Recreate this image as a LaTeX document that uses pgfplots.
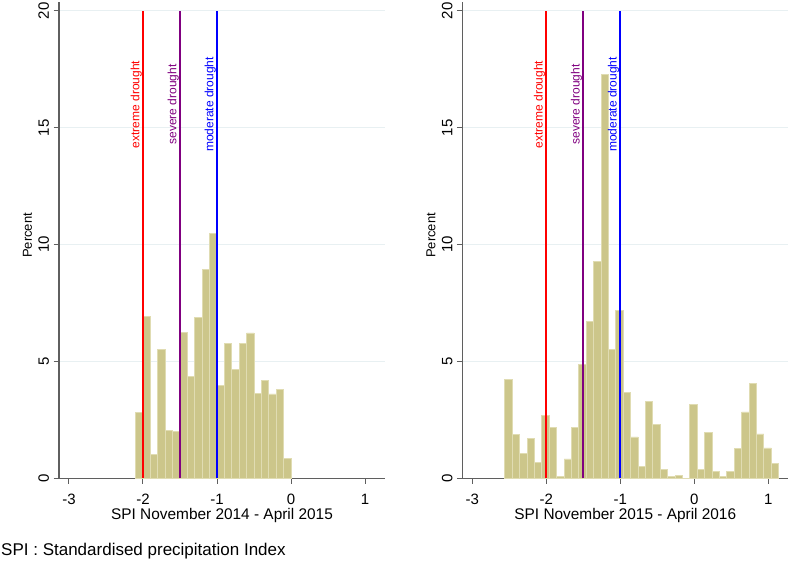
\documentclass[border=0pt]{standalone}
\usepackage{fontspec}
\setmainfont{Liberation Sans}
\usepackage{pgfplots}
\pgfplotsset{compat=1.18}

\definecolor{khakibar}{RGB}{204,198,138}
\definecolor{khakiedge}{RGB}{224,220,178}
\definecolor{gridc}{RGB}{232,240,242}
\definecolor{axisc}{RGB}{95,95,95}
\definecolor{purp}{RGB}{128,0,128}

\tikzset{dlabel/.style={rotate=90, anchor=south, inner sep=1pt, font=\fontsize{12}{14}\selectfont}}

\pgfplotsset{
  spipanel/.style={
    scale only axis, width=326pt, height=476.3pt,
    xmin=-3.135, xmax=1.27, ymin=0, ymax=20.385,
    axis x line*=bottom, axis y line*=left,
    axis line style={draw=axisc, line width=1.1pt},
    xtick={-3,-2,-1,0,1}, ytick={0,5,10,15,20},
    tick align=outside, major tick length=5.5pt,
    tick style={draw=axisc, line width=1pt},
    ymajorgrids, grid style={draw=gridc, line width=1pt},
    xticklabel={\pgfmathprintnumber[assume math mode=true]{\tick}},
    yticklabel={\pgfmathprintnumber[assume math mode=true]{\tick}},
    xticklabel style={font=\fontsize{15}{18}\selectfont, anchor=base, inner sep=0pt, yshift=-20.5pt},
    yticklabel style={font=\fontsize{15}{18}\selectfont, rotate=90, anchor=base, inner sep=0pt, yshift=4.5pt},
    xlabel style={at={(axis description cs:0.5,0)}, anchor=base, inner sep=0pt, yshift=-41pt, font=\fontsize{15.4}{18}\selectfont},
    ylabel style={at={(axis description cs:0,0.51)}, anchor=base, inner sep=0pt, yshift=27pt, font=\fontsize{13}{16}\selectfont},
    ylabel={Percent},
  },
  hist/.style={ybar interval, fill=khakibar, draw=khakiedge, line width=0.8pt},
  dline/.style={line width=1.8pt},
}

\begin{document}
\begin{tikzpicture}
\useasboundingbox (0,0) rectangle (790pt,563pt);

% left panel: Nov 2014 - Apr 2015
\begin{axis}[spipanel, at={(59pt,84.7pt)}, anchor=south west,
  xlabel={SPI November 2014 - April 2015}]
\addplot[hist] coordinates {
  (-2.1,2.81) (-2.0,6.92) (-1.9,1.04) (-1.8,5.52) (-1.7,2.06) (-1.6,2.00)
  (-1.5,6.25) (-1.4,4.34) (-1.3,6.87) (-1.2,8.92) (-1.1,10.46) (-1.0,3.98)
  (-0.9,5.78) (-0.8,4.67) (-0.7,5.78) (-0.6,6.22) (-0.5,3.64) (-0.4,4.17)
  (-0.3,3.61) (-0.2,3.81) (-0.1,0.86) (0,0)
};
\addplot[dline, red] coordinates {(-2,0) (-2,20)};
\addplot[dline, purp] coordinates {(-1.5,0) (-1.5,20)};
\addplot[dline, blue] coordinates {(-1,0) (-1,20)};
\node[dlabel, text=red] at (axis cs:-2,16) {extreme drought};
\node[dlabel, text=purp] at (axis cs:-1.5,16) {severe drought};
\node[dlabel, text=blue] at (axis cs:-1,16) {moderate drought};
\end{axis}

% right panel: Nov 2015 - Apr 2016
\begin{axis}[spipanel, at={(462.3pt,84.7pt)}, anchor=south west,
  xlabel={SPI November 2015 - April 2016}]
\addplot[hist] coordinates {
  (-2.56,4.23) (-2.46,1.86) (-2.36,1.07) (-2.26,1.70) (-2.16,0.69) (-2.06,2.68)
  (-1.96,2.16) (-1.86,0.07) (-1.76,0.83) (-1.66,2.18) (-1.56,4.88) (-1.46,6.70)
  (-1.36,9.29) (-1.26,17.30) (-1.16,5.52) (-1.06,7.18) (-0.96,3.67) (-0.86,1.77)
  (-0.76,0.49) (-0.66,3.27) (-0.56,2.30) (-0.46,0.39) (-0.36,0.07) (-0.26,0.11)
  (-0.16,0) (-0.06,3.17) (0.04,0.39) (0.14,1.96) (0.24,0.29) (0.34,0.09)
  (0.44,0.29) (0.54,1.27) (0.64,2.84) (0.74,4.05) (0.84,1.90) (0.94,1.30)
  (1.04,0.64) (1.14,0)
};
\addplot[dline, red] coordinates {(-2,0) (-2,20)};
\addplot[dline, purp] coordinates {(-1.5,0) (-1.5,20)};
\addplot[dline, blue] coordinates {(-1,0) (-1,20)};
\node[dlabel, text=red] at (axis cs:-2,16) {extreme drought};
\node[dlabel, text=purp] at (axis cs:-1.5,16) {severe drought};
\node[dlabel, text=blue] at (axis cs:-1,16) {moderate drought};
\end{axis}

\node[anchor=base west, inner sep=0pt, font=\fontsize{17}{20}\selectfont] at (1pt,8pt) {SPI : Standardised precipitation Index};
\end{tikzpicture}
\end{document}
